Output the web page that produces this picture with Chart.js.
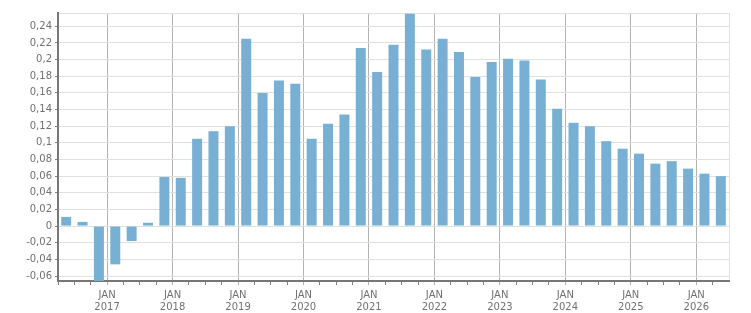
<!DOCTYPE html>
<html>
<head>
<meta charset="utf-8">
<script src="https://cdn.jsdelivr.net/npm/chart.js@4/dist/chart.umd.min.js"></script>
<style>
  body { margin: 0; background: #fff; }
</style>
</head>
<body>
<canvas id="chart" width="751" height="313"></canvas>
<script>
// quarterly values, Q2 2016 .. Q2 2026
var quarters = ['2016 Q2', '2016 Q3', '2016 Q4',
    '2017 Q1', '2017 Q2', '2017 Q3', '2017 Q4',
    '2018 Q1', '2018 Q2', '2018 Q3', '2018 Q4',
    '2019 Q1', '2019 Q2', '2019 Q3', '2019 Q4',
    '2020 Q1', '2020 Q2', '2020 Q3', '2020 Q4',
    '2021 Q1', '2021 Q2', '2021 Q3', '2021 Q4',
    '2022 Q1', '2022 Q2', '2022 Q3', '2022 Q4',
    '2023 Q1', '2023 Q2', '2023 Q3', '2023 Q4',
    '2024 Q1', '2024 Q2', '2024 Q3', '2024 Q4',
    '2025 Q1', '2025 Q2', '2025 Q3', '2025 Q4',
    '2026 Q1', '2026 Q2']

var values = [0.011, 0.005, -0.066,
    -0.046, -0.018, 0.004, 0.059,
    0.058, 0.105, 0.114, 0.120,
    0.225, 0.160, 0.175, 0.171,
    0.105, 0.123, 0.134, 0.214,
    0.185, 0.218, 0.255, 0.212,
    0.225, 0.209, 0.179, 0.197,
    0.201, 0.199, 0.176, 0.141,
    0.124, 0.120, 0.102, 0.093,
    0.087, 0.075, 0.078, 0.069,
    0.063, 0.060]

var monthLabel = 'JAN'
var yearLabels = ['2017', '2018', '2019', '2020', '2021', '2022', '2023', '2024', '2025', '2026']

var yTicks = [-0.06, -0.04, -0.02, 0, 0.02, 0.04, 0.06, 0.08, 0.1, 0.12,
    0.14, 0.16, 0.18, 0.2, 0.22, 0.24]
var yMin = -0.066
var yMax = 0.256

// quarter boundaries: tick i sits left of bar i
var bounds = quarters.map(function (q, i) { return i - 0.5 })
bounds.push(quarters.length - 0.5)

function isJan(v) {
    var q = quarters[Math.round(v + 0.5)]
    return !!q && q.slice(-2) === 'Q1'
}

function janIndex(v) {
    var i = Math.round(v + 0.5)
    return quarters.slice(0, i + 1).filter(function (q) { return q.slice(-2) === 'Q1' }).length - 1
}

Chart.defaults.font.family = 'DejaVu Sans'
Chart.defaults.font.size = 10
Chart.defaults.color = '#707070'

var ctx = document.getElementById('chart')

var chartGraph = new Chart(ctx, {
    type: 'bar',
    data: {
        datasets: [{
            label: 'Wert',
            data: values.map(function (v, i) { return { x: i, y: v } }),
            backgroundColor: '#78b0d3',
            borderWidth: 0,
            categoryPercentage: 0.61,
            barPercentage: 1
        }]
    },
    options: {
        responsive: false,
        devicePixelRatio: 1,
        animation: false,
        layout: { padding: { left: 0, top: 13, right: 22, bottom: 0 } },
        plugins: {
            legend: { display: false },
            tooltip: { enabled: false }
        },
        scales: {
            x: {
                type: 'linear',
                min: -0.5,
                max: quarters.length - 0.5,
                offset: false,
                afterBuildTicks: function (scale) {
                    scale.ticks = bounds.map(function (v) { return { value: v } })
                },
                afterFit: function (scale) { scale.height = 32 },
                ticks: {
                    autoSkip: false,
                    maxRotation: 0,
                    padding: 4,
                    callback: function (value) {
                        if (isJan(value)) return [monthLabel, yearLabels[janIndex(value)]]
                        return ''
                    }
                },
                grid: {
                    offset: false,
                    tickLength: 4,
                    color: function (c) {
                        if (c.tick && isJan(c.tick.value)) return '#b4b4b4'
                        if (c.index === bounds.length - 1) return '#e0e0e0'
                        return 'rgba(0,0,0,0)'
                    },
                    tickColor: function (c) {
                        if (c.index === bounds.length - 1) return 'rgba(0,0,0,0)'
                        if (c.tick && isJan(c.tick.value)) return '#b4b4b4'
                        return '#808080'
                    }
                },
                border: { color: '#777777', width: 2 }
            },
            y: {
                min: yMin,
                max: yMax,
                afterBuildTicks: function (scale) {
                    scale.ticks = [yMin].concat(yTicks, [yMax]).map(function (v) { return { value: v } })
                },
                afterFit: function (scale) { scale.width = 58 },
                ticks: {
                    padding: 3,
                    callback: function (value) {
                        if (yTicks.indexOf(value) < 0) return ''
                        return String(Math.round(value * 100) / 100).replace('.', ',')
                    }
                },
                grid: {
                    tickLength: 3,
                    color: function (c) {
                        if (c.tick && c.tick.value === yMin) return 'rgba(0,0,0,0)'
                        return '#e0e0e0'
                    },
                    tickColor: function (c) {
                        if (c.tick && yTicks.indexOf(c.tick.value) >= 0) return '#808080'
                        return 'rgba(0,0,0,0)'
                    }
                },
                border: { color: '#777777', width: 2 }
            }
        }
    }
})
</script>
</body>
</html>
